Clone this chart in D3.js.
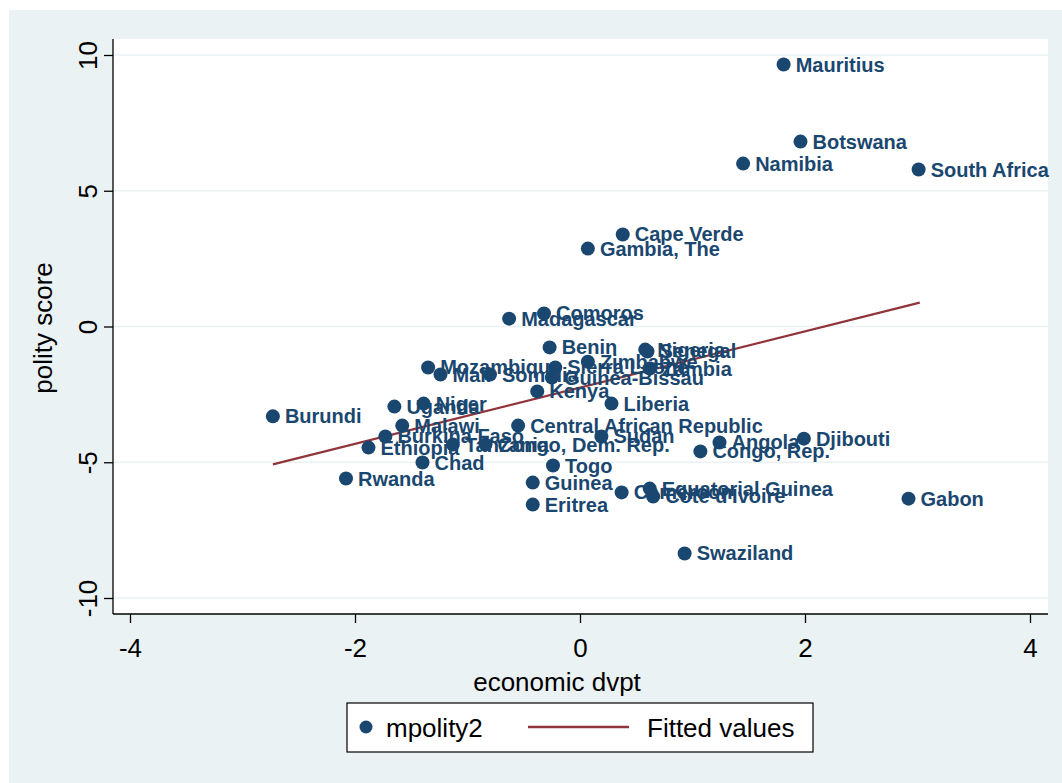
<!DOCTYPE html>
<html>
<head>
<meta charset="utf-8">
<script src="https://cdn.jsdelivr.net/npm/d3@7"></script>
<style>
  html, body { margin: 0; padding: 0; background: #ffffff; }
  svg { display: block; font-family: "Liberation Sans", Arial, Helvetica, sans-serif; }
</style>
</head>
<body>
<svg id="chart" width="1062" height="783"></svg>
<script>
// Country names, economic development index and mean polity score
const countries = [
  "Mauritius", "Botswana", "Namibia", "South Africa", "Cape Verde", "Gambia, The",
  "Comoros", "Madagascar", "Benin", "Nigeria", "Senegal", "Zimbabwe",
  "Sierra Leone", "Zambia", "Guinea-Bissau", "Mozambique", "Mali", "Somalia",
  "Kenya", "Liberia", "Burundi", "Uganda", "Niger", "Malawi",
  "Central African Republic", "Burkina Faso", "Ethiopia", "Tanzania",
  "Congo, Dem. Rep.", "Sudan", "Angola", "Djibouti", "Congo, Rep.", "Chad",
  "Togo", "Rwanda", "Guinea", "Eritrea", "Gabon", "Swaziland",
  "Cameroon", "Equatorial Guinea", "Cote d'Ivoire"
];
const econDvpt = [
  1.81, 1.96, 1.45, 3.01, 0.38, 0.07,
  -0.32, -0.63, -0.27, 0.58, 0.60, 0.07,
  -0.22, 0.62, -0.25, -1.35, -1.24, -0.80,
  -0.38, 0.28, -2.73, -1.65, -1.39, -1.58,
  -0.55, -1.73, -1.88, -1.13,
  -0.84, 0.19, 1.24, 1.99, 1.07, -1.40,
  -0.24, -2.08, -0.42, -0.42, 2.92, 0.93,
  0.37, 0.62, 0.65
];
const polity = [
  9.65, 6.81, 6.00, 5.78, 3.39, 2.87,
  0.48, 0.29, -0.77, -0.85, -0.92, -1.30,
  -1.51, -1.55, -1.88, -1.51, -1.77, -1.77,
  -2.39, -2.84, -3.31, -2.95, -2.84, -3.65,
  -3.65, -4.05, -4.46, -4.35,
  -4.35, -4.05, -4.27, -4.13, -4.60, -5.01,
  -5.12, -5.60, -5.75, -6.56, -6.34, -8.36,
  -6.11, -5.97, -6.26
];

// Linear fit endpoints
const fitX = [-2.73, 3.02];
const fitY = [-5.08, 0.88];

const xTicks = [-4, -2, 0, 2, 4];
const yTicks = [-10, -5, 0, 5, 10];

const legendItems = ["mpolity2", "Fitted values"];

const navy = "#1a476f";
const maroon = "#90353b";
const bgColor = "#eaf2f3";

const svg = d3.select("#chart");

// Outer graph region
svg.append("rect").attr("x", 9).attr("y", 10).attr("width", 1053).attr("height", 773).attr("fill", bgColor);

const plot = { left: 113, right: 1048, top: 39, bottom: 614 };
svg.append("rect")
  .attr("x", plot.left).attr("y", plot.top)
  .attr("width", plot.right - plot.left).attr("height", plot.bottom - plot.top)
  .attr("fill", "#ffffff");

const x = d3.scaleLinear().domain([-4, 4]).range([130, 1030]);
const y = d3.scaleLinear().domain([-10, 10]).range([598, 55]);

const fmt = d => String(d);

// Horizontal grid lines
svg.append("g").selectAll("line").data(yTicks).join("line")
  .attr("x1", plot.left).attr("x2", plot.right)
  .attr("y1", d => y(d)).attr("y2", d => y(d))
  .attr("stroke", bgColor).attr("stroke-width", 1.5);

// Axes
const yAxis = d3.axisLeft(y).tickValues(yTicks).tickSize(9).tickFormat(fmt);
const gy = svg.append("g").attr("transform", `translate(${plot.left},0)`).call(yAxis);
gy.select(".domain").attr("d", `M0,${plot.top}V${plot.bottom}`).attr("stroke", "#000").attr("stroke-width", 1.3);
gy.selectAll(".tick line").attr("stroke", "#000").attr("stroke-width", 1.3);
gy.selectAll(".tick text")
  .attr("font-size", 26).attr("fill", "#000")
  .attr("text-anchor", "middle")
  .attr("x", 0).attr("y", 0).attr("dy", 0)
  .attr("transform", "translate(-16,0) rotate(-90)");

const xAxis = d3.axisBottom(x).tickValues(xTicks).tickSize(9).tickFormat(fmt);
const gx = svg.append("g").attr("transform", `translate(0,${plot.bottom})`).call(xAxis);
gx.select(".domain").attr("d", `M${plot.left},0H${plot.right}`).attr("stroke", "#000").attr("stroke-width", 1.3);
gx.selectAll(".tick line").attr("stroke", "#000").attr("stroke-width", 1.3);
gx.selectAll(".tick text").attr("font-size", 26).attr("fill", "#000").attr("y", 43).attr("dy", 0);

// Axis titles
svg.append("text").attr("x", 557).attr("y", 691).attr("text-anchor", "middle")
  .attr("font-size", 26).attr("fill", "#000").text("economic dvpt");
svg.append("text").attr("transform", "translate(52,328) rotate(-90)").attr("text-anchor", "middle")
  .attr("font-size", 26).attr("fill", "#000").text("polity score");

// Fitted line
svg.append("line")
  .attr("x1", x(fitX[0])).attr("y1", y(fitY[0]))
  .attr("x2", x(fitX[1])).attr("y2", y(fitY[1]))
  .attr("stroke", maroon).attr("stroke-width", 2.2);

// Points and their labels
const pts = countries.map((c, i) => ({ name: c, ex: econDvpt[i], py: polity[i] }));
const gp = svg.append("g");
gp.selectAll("circle").data(pts).join("circle")
  .attr("cx", d => x(d.ex)).attr("cy", d => y(d.py)).attr("r", 7)
  .attr("fill", navy);
gp.selectAll("text").data(pts).join("text")
  .attr("x", d => x(d.ex) + 12).attr("y", d => y(d.py) + 7)
  .attr("font-size", 20).attr("font-weight", "bold").attr("fill", navy)
  .text(d => d.name);

// Legend
const lg = svg.append("g");
lg.append("rect").attr("x", 347).attr("y", 703).attr("width", 466).attr("height", 49)
  .attr("fill", "#fff").attr("stroke", "#000").attr("stroke-width", 1.2);
lg.append("circle").attr("cx", 366).attr("cy", 727).attr("r", 6.5).attr("fill", navy);
lg.append("text").attr("x", 386).attr("y", 737).attr("font-size", 26).attr("fill", "#000").text(legendItems[0]);
lg.append("line").attr("x1", 528).attr("x2", 629).attr("y1", 727).attr("y2", 727)
  .attr("stroke", maroon).attr("stroke-width", 2.5);
lg.append("text").attr("x", 647).attr("y", 737).attr("font-size", 26).attr("fill", "#000").text(legendItems[1]);
</script>
</body>
</html>
